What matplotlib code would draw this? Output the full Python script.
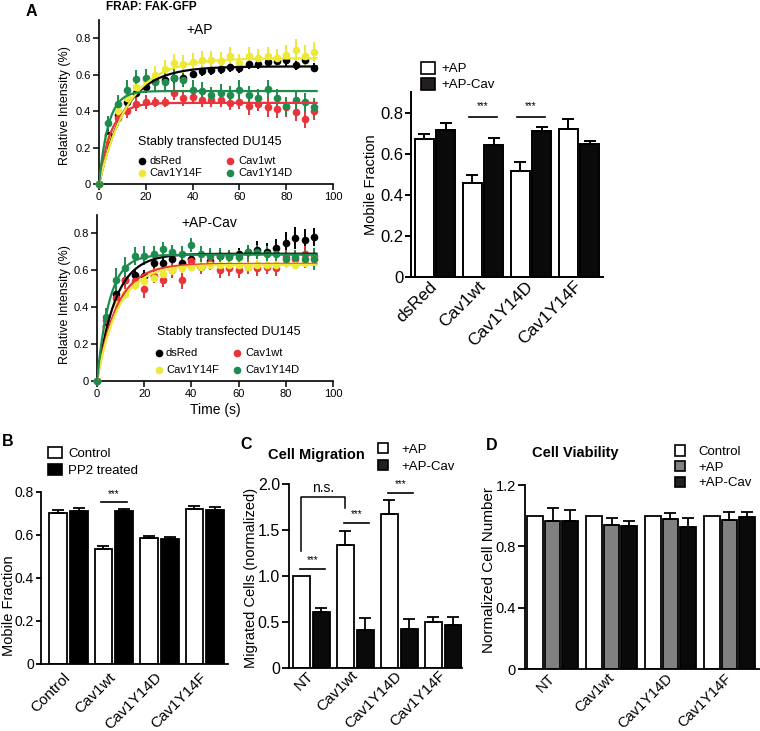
import numpy as np
import matplotlib
matplotlib.use("Agg")
import matplotlib.pyplot as plt
from matplotlib.patches import Patch
from matplotlib.transforms import ScaledTranslation

plt.rcParams["font.family"] = ["Liberation Sans", "DejaVu Sans"]
plt.rcParams["axes.linewidth"] = 1.2

# ── FRAP data (panel A, left) ────────────────────────────────────────────────
time_s = [0, 4, 8, 12, 16, 20, 24, 28, 32, 36, 40, 44,
          48, 52, 56, 60, 64, 68, 72, 76, 80, 84, 88, 92]
frap_labels = ["dsRed", "Cav1wt", "Cav1Y14F", "Cav1Y14D"]
frap_colors = ["#000000", "#e8343a", "#eee837", "#1e8c4e"]

ap_dsred = [0, .27, .38, .45, .50, .53, .565, .57, .58, .58, .605, .62,
            .625, .63, .64, .635, .66, .66, .67, .675, .68, .655, .68, .638]
ap_dsred_err = [0, .03, .03, .03, .03, .03, .03, .03, .03, .03, .025, .025,
                .025, .025, .025, .025, .03, .03, .03, .03, .03, .03, .03, .025]
ap_cav1wt = [0, .24, .36, .40, .44, .45, .45, .45, .50, .47, .48, .46,
             .46, .46, .445, .45, .427, .44, .42, .41, .42, .397, .358, .40]
ap_cav1wt_err = [0, .04, .04, .04, .04, .04, .03, .03, .04, .04, .04, .04,
                 .04, .04, .04, .04, .05, .04, .05, .05, .05, .05, .05, .05]
ap_y14f = [0, .25, .40, .47, .53, .57, .60, .63, .665, .66, .67, .68,
           .68, .675, .70, .665, .70, .69, .70, .69, .71, .733, .70, .726]
ap_y14f_err = [0, .04, .05, .05, .05, .05, .05, .05, .05, .05, .05, .05,
               .05, .05, .05, .05, .05, .05, .05, .05, .05, .06, .06, .055]
ap_y14d = [0, .335, .437, .518, .577, .58, .56, .56, .58, .57, .518, .51,
           .49, .50, .49, .518, .49, .47, .52, .47, .43, .46, .45, .42]
ap_y14d_err = [0, .04, .05, .05, .05, .05, .05, .05, .05, .04, .05, .05,
               .04, .05, .05, .05, .05, .05, .05, .05, .05, .05, .05, .05]
ap_plateau = [0.645, 0.445, 0.69, 0.51]
ap_rate = [0.09, 0.20, 0.08, 0.25]

apcav_dsred = [0, .30, .47, .55, .577, .57, .64, .64, .66, .64, .66, .62,
               .65, .68, .68, .69, .70, .71, .70, .72, .75, .775, .765, .782]
apcav_dsred_err = [0, .04, .04, .04, .03, .03, .03, .03, .03, .03, .03, .03,
                   .03, .03, .03, .03, .04, .05, .05, .05, .06, .06, .06, .05]
apcav_cav1wt = [0, .33, .45, .55, .54, .50, .57, .55, .60, .55, .65, .62,
                .64, .60, .61, .60, .62, .61, .62, .61, .67, .66, .69, .68]
apcav_cav1wt_err = [0, .04, .05, .05, .04, .05, .04, .04, .04, .05, .04, .04,
                    .04, .04, .04, .04, .04, .04, .04, .04, .04, .04, .04, .04]
apcav_y14f = [0, .28, .42, .47, .52, .54, .56, .58, .60, .61, .62, .62,
              .63, .63, .63, .63, .62, .63, .63, .63, .64, .63, .64, .66]
apcav_y14f_err = [0, .025, .025, .025, .025, .025, .025, .025, .025, .025, .025, .025,
                  .025, .025, .025, .025, .025, .025, .025, .025, .025, .025, .025, .025]
apcav_y14d = [0, .345, .55, .61, .677, .68, .69, .713, .70, .69, .737, .69,
              .68, .68, .67, .67, .70, .70, .69, .69, .66, .67, .66, .66]
apcav_y14d_err = [0, .05, .06, .06, .05, .05, .04, .04, .04, .04, .04, .04,
                  .04, .04, .04, .04, .04, .04, .04, .04, .04, .04, .05, .06]
apcav_plateau = [0.69, 0.635, 0.63, 0.685]
apcav_rate = [0.13, 0.12, 0.11, 0.19]

# ── Mobile fraction (panel A, right) ─────────────────────────────────────────
a_groups = ["dsRed", "Cav1wt", "Cav1Y14D", "Cav1Y14F"]
a_ap = [0.67, 0.458, 0.516, 0.719]
a_ap_err = [0.025, 0.04, 0.041, 0.049]
a_apcav = [0.714, 0.641, 0.709, 0.646]
a_apcav_err = [0.037, 0.033, 0.021, 0.015]
a_sig = [1, 2]            # groups marked ***

# ── Panel B ──────────────────────────────────────────────────────────────────
b_groups = ["Control", "Cav1wt", "Cav1Y14D", "Cav1Y14F"]
b_control = [0.703, 0.537, 0.584, 0.723]
b_control_err = [0.012, 0.012, 0.012, 0.012]
b_pp2 = [0.712, 0.71, 0.58, 0.716]
b_pp2_err = [0.012, 0.012, 0.01, 0.012]
b_sig = [1]

# ── Panel C ──────────────────────────────────────────────────────────────────
c_groups = ["NT", "Cav1wt", "Cav1Y14D", "Cav1Y14F"]
c_ap = [1.0, 1.337, 1.674, 0.503]
c_ap_err = [0, 0.152, 0.156, 0.047]
c_apcav = [0.612, 0.41, 0.42, 0.467]
c_apcav_err = [0.045, 0.137, 0.11, 0.091]
c_sig = [(0, 1.076), (1, 1.573), (2, 1.899)]

# ── Panel D ──────────────────────────────────────────────────────────────────
d_groups = ["NT", "Cav1wt", "Cav1Y14D", "Cav1Y14F"]
d_control = [1.0, 1.0, 1.0, 1.0]
d_ap = [0.967, 0.939, 0.976, 0.972]
d_ap_err = [0.08, 0.044, 0.04, 0.05]
d_apcav = [0.965, 0.933, 0.924, 0.989]
d_apcav_err = [0.07, 0.035, 0.063, 0.033]


# ── Helpers ──────────────────────────────────────────────────────────────────

def frap_panel(ax, series, errs, plateaus, rates, title, title_xy):
    for vals, err, col in zip(series, errs, frap_colors):
        ax.errorbar(time_s, vals, yerr=err, fmt="o", color=col, ms=5.5, mew=0,
                    elinewidth=1.4, capsize=3.5, capthick=1.4, clip_on=False, zorder=3)
    tfit = np.linspace(0, 93, 200)
    for P, k, col in zip(plateaus, rates, frap_colors):
        ax.plot(tfit, P * (1 - np.exp(-k * tfit)), color=col, lw=1.6, zorder=4)

    ax.set_xlim(0, 100)
    ax.set_ylim(0, 0.9)
    ax.set_xticks([0, 20, 40, 60, 80, 100])
    ax.set_yticks([0, 0.2, 0.4, 0.6, 0.8])
    ax.set_yticklabels(["0", "0.2", "0.4", "0.6", "0.8"])
    for s in ("top", "right"):
        ax.spines[s].set_visible(False)
    ax.tick_params(direction="out", length=4, width=1.1, labelsize=8, pad=2)
    ax.set_ylabel("Relative Intensity (%)", fontsize=9, va="center")
    ax.text(title_xy[0], title_xy[1], title, transform=ax.transAxes,
            ha="center", va="center", fontsize=10)


def frap_legend(ax, x0, y_title, y_rows, x_marks, x_texts):
    # 2x2 marker key under a left-aligned title, in axes fraction
    ax.text(x0, y_title, "Stably transfected DU145", transform=ax.transAxes,
            ha="left", va="center", fontsize=9)
    layout = [(0, 0, 0), (1, 0, 1), (2, 1, 0), (3, 1, 1)]   # series, row, col
    for i, r, c in layout:
        ax.plot(x_marks[c], y_rows[r], "o", color=frap_colors[i], ms=5.5, mew=0,
                transform=ax.transAxes, clip_on=False)
        ax.text(x_texts[c], y_rows[r], frap_labels[i], transform=ax.transAxes,
                ha="left", va="center", fontsize=8)


def bar_panel(ax, groups, vals, errs, colors, width, offsets, xlim, ylim,
              yticks, yticklabels, tick_fs, xlab_fs, xpad, xshift, lw=1.3, tlen=5):
    x = np.arange(len(groups))
    for v, e, col, off in zip(vals, errs, colors, offsets):
        ax.bar(x + off, v, width, color=col, edgecolor="black", linewidth=lw, zorder=2)
        if e is None:
            continue
        e = np.asarray(e, dtype=float)
        keep = e > 0
        ax.errorbar((x + off)[keep], np.asarray(v)[keep],
                    yerr=[np.zeros(keep.sum()), e[keep]], fmt="none",
                    ecolor="black", elinewidth=lw, capsize=4, capthick=lw, zorder=3)
    ax.set_xlim(*xlim)
    ax.set_ylim(*ylim)
    ax.set_yticks(yticks)
    ax.set_yticklabels(yticklabels)
    ax.set_xticks(x)
    ax.set_xticklabels(groups, rotation=45, ha="right", va="center",
                       rotation_mode="anchor", fontsize=xlab_fs)
    shift = ScaledTranslation(xshift / 100, 0, ax.figure.dpi_scale_trans)
    for lab in ax.get_xticklabels():
        lab.set_transform(lab.get_transform() + shift)
    for s in ("top", "right"):
        ax.spines[s].set_visible(False)
    ax.spines["left"].set_linewidth(lw)
    ax.spines["bottom"].set_linewidth(lw)
    ax.tick_params(axis="y", direction="out", length=tlen, width=lw, labelsize=tick_fs, pad=1.5)
    ax.tick_params(axis="x", length=0, pad=xpad)


def sig_line(ax, x0, x1, y, dy, fs=7):
    ax.plot([x0, x1], [y, y], color="black", lw=1.2, clip_on=False)
    ax.text((x0 + x1) / 2, y + dy, "***", ha="center", va="center",
            fontsize=fs, clip_on=False)


def square_legend(ax, labels, colors, xy, fs, hl, hh, sp, tp):
    handles = [Patch(facecolor=c, edgecolor="black", linewidth=1.2) for c in colors]
    ax.legend(handles, labels, loc="upper left", bbox_to_anchor=xy, frameon=False,
              borderpad=0, fontsize=fs, handlelength=hl, handleheight=hh,
              labelspacing=sp, handletextpad=tp, borderaxespad=0)


# ── Figure ───────────────────────────────────────────────────────────────────

fig = plt.figure(figsize=(7.6, 7.31), dpi=100)

ax_top = fig.add_axes([0.1303, 0.7483, 0.3079, 0.2244])
ax_bot = fig.add_axes([0.1276, 0.4788, 0.3105, 0.2271])
ax_a = fig.add_axes([0.5408, 0.6211, 0.2526, 0.2531])
ax_b = fig.add_axes([0.0539, 0.0917, 0.2461, 0.2353])
ax_c = fig.add_axes([0.3803, 0.0862, 0.2276, 0.2517])
ax_d = fig.add_axes([0.6908, 0.0848, 0.3092, 0.2517])

# FRAP curves
frap_panel(ax_top, [ap_dsred, ap_cav1wt, ap_y14f, ap_y14d],
           [ap_dsred_err, ap_cav1wt_err, ap_y14f_err, ap_y14d_err],
           ap_plateau, ap_rate, "+AP", (0.43, 0.94))
ax_top.yaxis.set_label_coords(-0.145, 0.48)
frap_legend(ax_top, 0.167, 0.256, (0.140, 0.067), (0.184, 0.560), (0.214, 0.594))

frap_panel(ax_bot, [apcav_dsred, apcav_cav1wt, apcav_y14f, apcav_y14d],
           [apcav_dsred_err, apcav_cav1wt_err, apcav_y14f_err, apcav_y14d_err],
           apcav_plateau, apcav_rate, "+AP-Cav", (0.475, 0.95))
ax_bot.yaxis.set_label_coords(-0.136, 0.46)
ax_bot.set_xlabel("Time (s)", fontsize=10, labelpad=3)
frap_legend(ax_bot, 0.254, 0.295, (0.169, 0.066), (0.263, 0.593), (0.292, 0.627))

# Panel A mobile fraction
bar_panel(ax_a, a_groups, [a_ap, a_apcav], [a_ap_err, a_apcav_err],
          ["white", "#0a0a0a"], 0.39, [-0.225, 0.22], (-0.5, 3.5), (0, 0.9),
          [0, 0.2, 0.4, 0.6, 0.8], ["0", "0.2", "0.4", "0.6", "0.8"], 12, 12.5,
          xpad=5, xshift=3, lw=1.4, tlen=4)
ax_a.set_ylabel("Mobile Fraction", fontsize=10.5, va="center")
ax_a.yaxis.set_label_coords(-0.21, 0.5)
for g in a_sig:
    sig_line(ax_a, g - 0.29, g + 0.29, 0.779, 0.05)
square_legend(ax_a, ["+AP", "+AP-Cav"], ["white", "#231f20"], (0.052, 1.164),
              9.5, 1.05, 1.05, 0.2, 0.5)

# Panel B
bar_panel(ax_b, b_groups, [b_control, b_pp2], [b_control_err, b_pp2_err],
          ["white", "black"], 0.39, [-0.228, 0.228], (-0.6, 3.51), (0, 0.8),
          [0, 0.2, 0.4, 0.6, 0.8], ["0", "0.2", "0.4", "0.6", "0.8"], 10, 11,
          xpad=8, xshift=5, tlen=3.5)
ax_b.set_ylabel("Mobile Fraction", fontsize=10.5, va="center")
ax_b.yaxis.set_label_coords(-0.17, 0.34)
for g in b_sig:
    sig_line(ax_b, g - 0.29, g + 0.29, 0.752, 0.04)
square_legend(ax_b, ["Control", "PP2 treated"], ["white", "black"], (0.035, 1.263),
              9.5, 1.1, 0.9, 0.3, 0.45)

# Panel C
bar_panel(ax_c, c_groups, [c_ap, c_apcav], [c_ap_err, c_apcav_err],
          ["white", "#0a0a0a"], 0.385, [-0.227, 0.227], (-0.507, 3.425), (0, 2.0),
          [0, 0.5, 1.0, 1.5, 2.0], ["0", "0.5", "1.0", "1.5", "2.0"], 11.5, 11,
          xpad=4, xshift=2)
ax_c.set_ylabel("Migrated Cells (normalized)", fontsize=10.5, va="center")
ax_c.yaxis.set_label_coords(-0.22, 0.49)
for g, y in c_sig:
    sig_line(ax_c, g - 0.26, g + 0.32, y, 0.095)
# n.s. bracket between NT and Cav1wt (+AP)
ax_c.plot([-0.227, -0.227, 0.773, 0.773], [1.27, 1.862, 1.862, 1.736],
          color="black", lw=1.1, clip_on=False)
ax_c.text(0.27, 1.953, "n.s.", ha="center", va="center", fontsize=10)
square_legend(ax_c, ["+AP", "+AP-Cav"], ["white", "#231f20"], (0.514, 1.223),
              9.5, 0.8, 0.85, 0.3, 1.0)

# Panel D
bar_panel(ax_d, d_groups, [d_control, d_ap, d_apcav], [None, d_ap_err, d_apcav_err],
          ["white", "#808080", "#0a0a0a"], 0.265, [-0.3, 0.0, 0.3], (-0.466, 3.517),
          (0, 1.2), [0, 0.4, 0.8, 1.2], ["0", "0.4", "0.8", "1.2"], 10.5, 10.5,
          xpad=5, xshift=6)
ax_d.set_ylabel("Normalized Cell Number", fontsize=11, va="center")
ax_d.yaxis.set_label_coords(-0.153, 0.54)
square_legend(ax_d, ["Control", "+AP", "+AP-Cav"], ["white", "#808080", "#231f20"],
              (0.638, 1.217), 9.5, 0.75, 0.85, 0.22, 1.0)

# Titles and panel letters
fig.text(31 / 760, 1 - 11 / 731, "A", fontsize=11.5, fontweight="bold", ha="center", va="center")
fig.text(151 / 760, 1 - 7 / 731, "FRAP: FAK-GFP", fontsize=8.5, fontweight="bold",
         ha="center", va="center")
fig.text(8 / 760, 1 - 442 / 731, "B", fontsize=11.5, fontweight="bold", ha="center", va="center")
fig.text(246 / 760, 1 - 444 / 731, "C", fontsize=11.5, fontweight="bold", ha="center", va="center")
fig.text(492 / 760, 1 - 446 / 731, "D", fontsize=11.5, fontweight="bold", ha="center", va="center")
fig.text(316 / 760, 1 - 455 / 731, "Cell Migration", fontsize=10.5, fontweight="bold",
         ha="center", va="center")
fig.text(575 / 760, 1 - 453 / 731, "Cell Viability", fontsize=10.5, fontweight="bold",
         ha="center", va="center")

fig.savefig("out.png", dpi=100)
